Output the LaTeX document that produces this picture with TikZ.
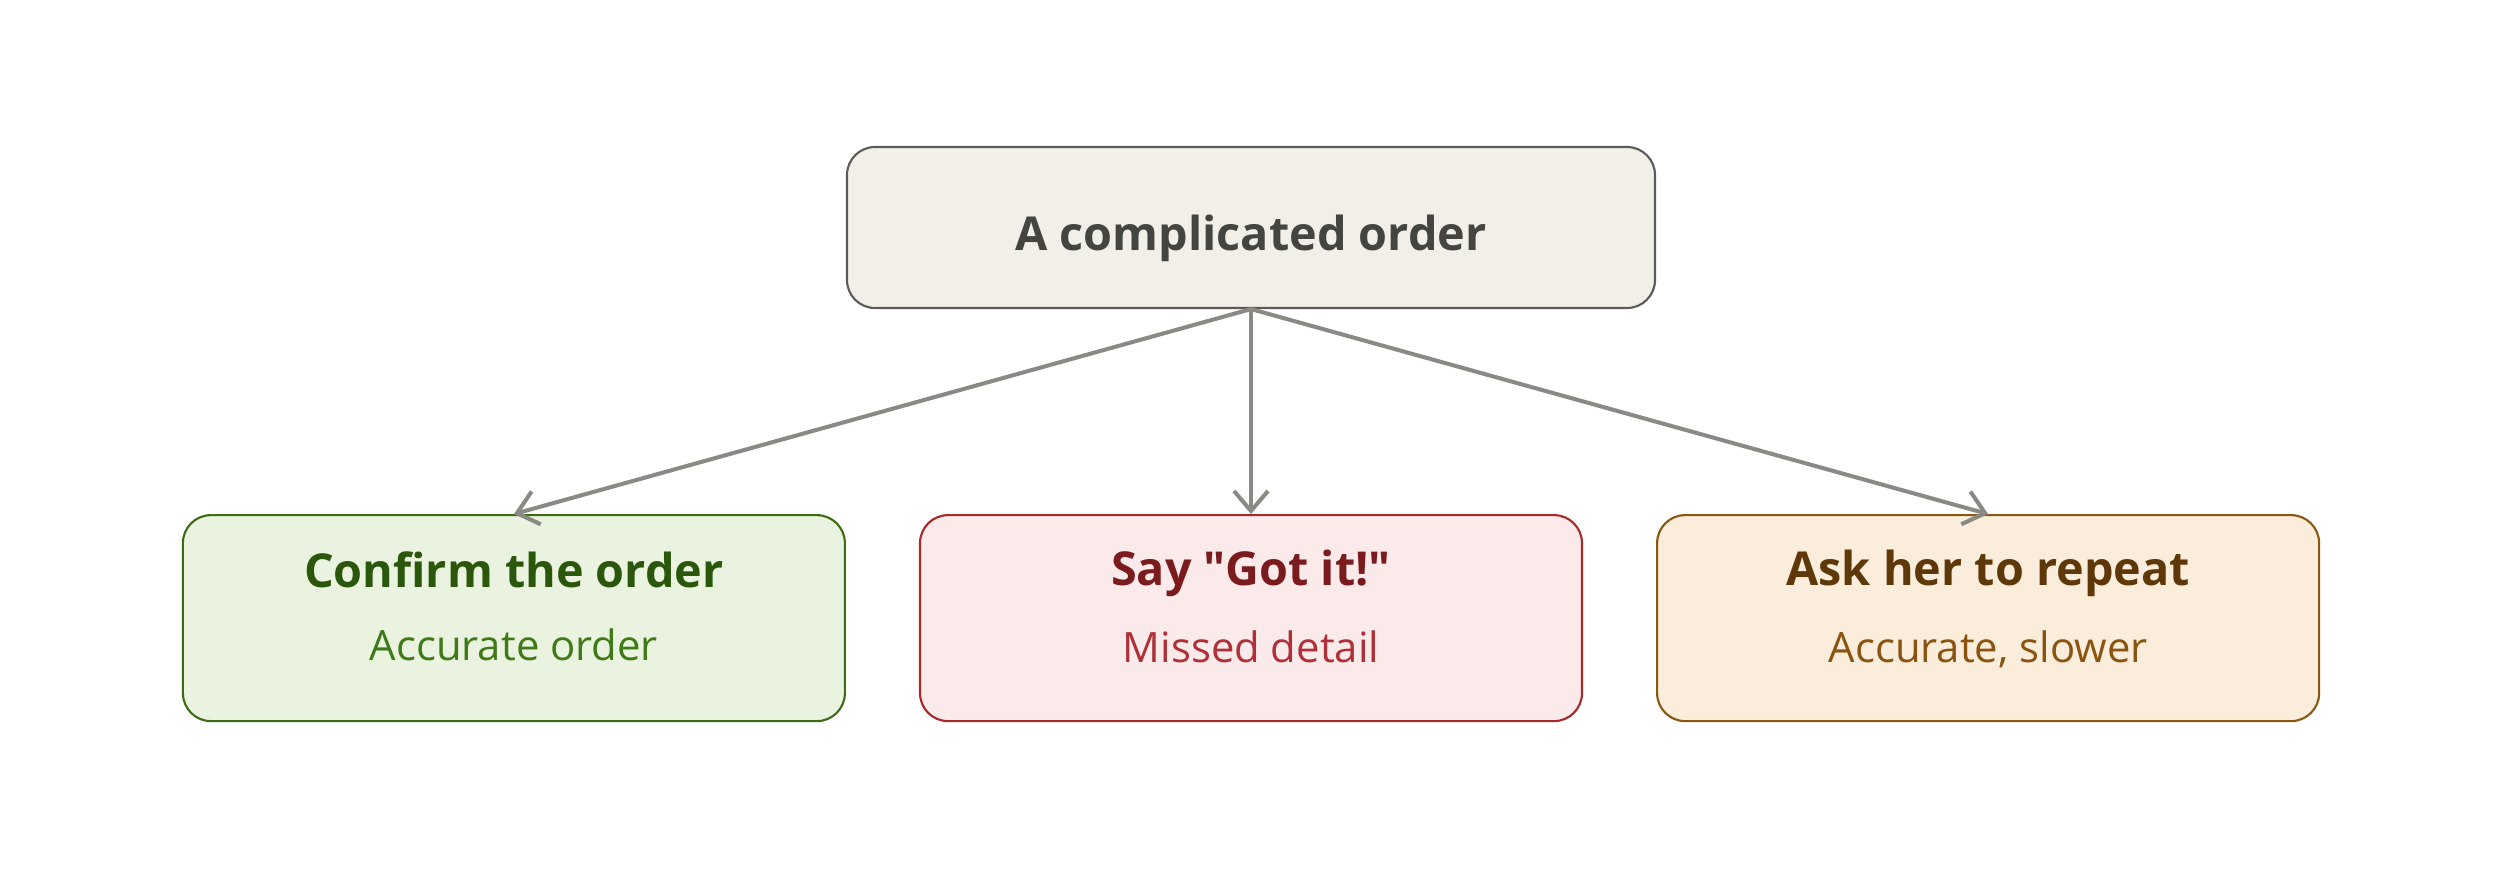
\documentclass[tikz,border=0pt]{standalone}
\usepackage{fontspec}
\setmainfont{Open Sans}
\newfontfamily\plainsans{Open Sans}
\usetikzlibrary{positioning,arrows.meta}

\definecolor{topfill}{HTML}{F2EFE8}
\definecolor{topline}{HTML}{5A5A58}
\definecolor{toptext}{HTML}{444440}
\definecolor{arrowgray}{HTML}{8A8A84}
\definecolor{okfill}{HTML}{EAF3DF}
\definecolor{okline}{HTML}{3E6B14}
\definecolor{oktitle}{HTML}{2B570C}
\definecolor{oksub}{HTML}{3F7A18}
\definecolor{badfill}{HTML}{FBEAEA}
\definecolor{badline}{HTML}{A8282C}
\definecolor{badtitle}{HTML}{7A1C1E}
\definecolor{badsub}{HTML}{B0303A}
\definecolor{slowfill}{HTML}{FBEDDB}
\definecolor{slowline}{HTML}{8A5610}
\definecolor{slowtitle}{HTML}{5E3808}
\definecolor{slowsub}{HTML}{8A5410}

\newcommand{\outcome}[4]{{\color{#1}\fontsize{13.3}{16}\selectfont\bfseries #3}\\[0.31cm]{\color{#2}\fontsize{11.9}{14}\selectfont #4\rule[-0.24cm]{0pt}{0pt}}}
\newcommand{\straightquote}{{\plainsans\bfseries\char"22}}

\begin{document}
\begin{tikzpicture}[node distance=0.73cm,
  box/.style={draw, rounded corners=0.28cm, line width=0.6pt, minimum width=6.62cm, minimum height=2.06cm, align=center},
  link/.style={-{Straight Barb[length=2mm,width=3.4mm]}, line width=1.15pt, draw=arrowgray}]
\useasboundingbox (0,0) rectangle (25,-8.68);
\node[box, fill=topfill, draw=topline, text=toptext, minimum width=8.08cm, minimum height=1.61cm, text height=0.55cm, text depth=0.1cm, font=\fontsize{13.3}{16}\selectfont\bfseries] (order) at (12.51,-2.275) {A complicated order};
% the three answers
\node[box, fill=badfill, draw=badline, below=2.05cm of order] (gotit) {\outcome{badtitle}{badsub}{Say \straightquote Got it!\straightquote}{Missed detail}};
\node[box, fill=okfill, draw=okline, left=of gotit] (confirm) {\outcome{oktitle}{oksub}{Confirm the order}{Accurate order}};
\node[box, fill=slowfill, draw=slowline, right=of gotit] (repeat) {\outcome{slowtitle}{slowsub}{Ask her to repeat}{Accurate, slower}};
\draw[link] (order.south) -- (confirm.north);
\draw[link] (order.south) -- (gotit.north);
\draw[link] (order.south) -- (repeat.north);
\end{tikzpicture}
\end{document}
